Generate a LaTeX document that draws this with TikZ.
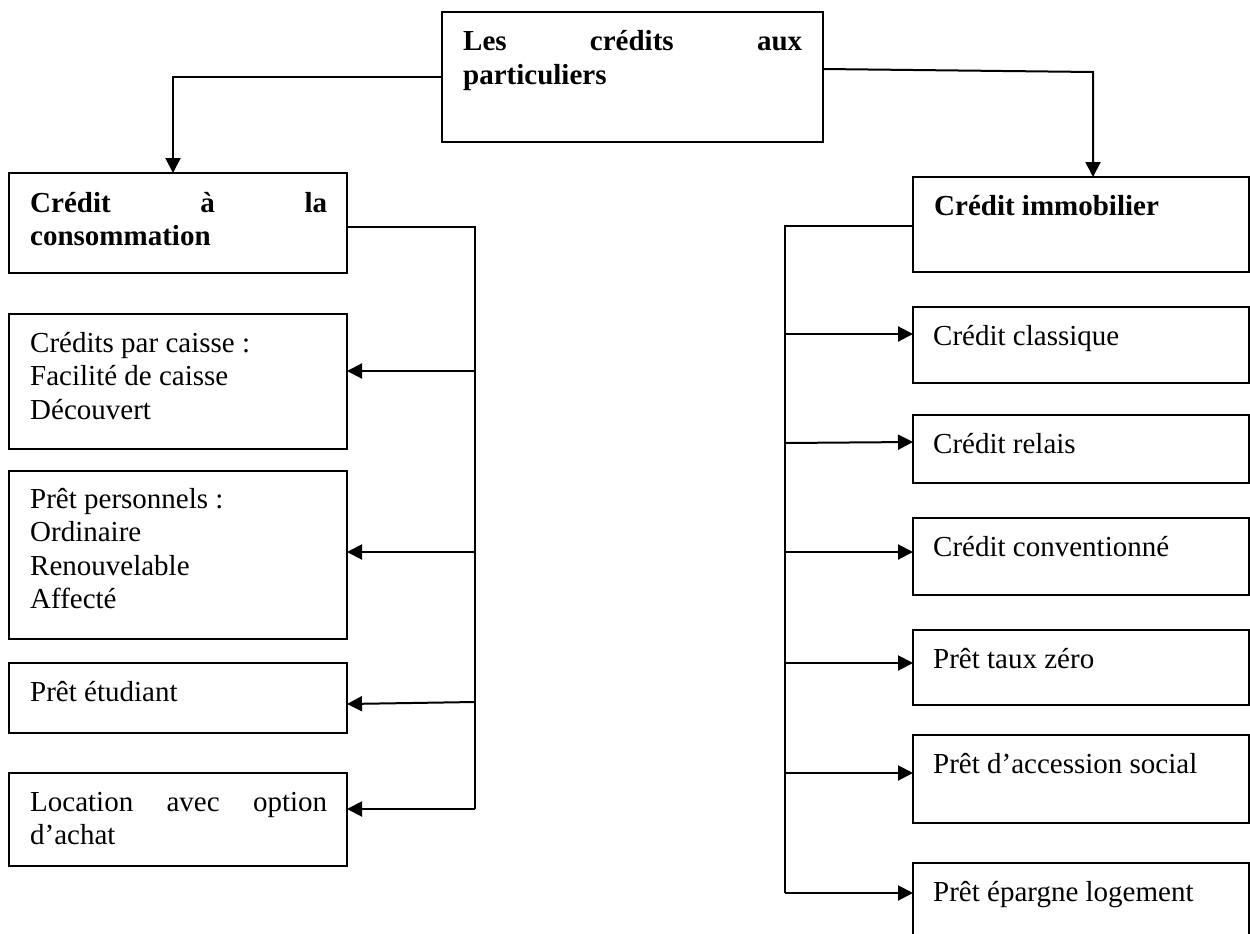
\documentclass[tikz,border=0pt]{standalone}
\usepackage{fontspec}
\setmainfont{Liberation Serif}
\usetikzlibrary{arrows.meta,calc}
\tikzset{
  box/.style={draw, rectangle, anchor=north west, inner sep=0pt, outer sep=0pt, line width=2pt},
  lbox/.style={box, minimum width=338pt},
  rbox/.style={box, minimum width=336pt},
  txt/.style={anchor=base west, inner sep=0pt, font=\fontsize{29}{33.5}\selectfont},
  btxt/.style={txt, font=\fontsize{29}{33.5}\selectfont\bfseries},
  arr/.style={-{Triangle[length=15pt,width=15pt]}, line width=2pt},
  conn/.style={line width=2pt}
}
\begin{document}
\begin{tikzpicture}[x=1pt,y=-1pt]
\clip (0,0) rectangle (1250,934);
\fill[white] (0,0) rectangle (1250,934);

% top
\node[box, minimum width=381pt, minimum height=130pt] (top) at (442,12) {};
\node[btxt] (topt) at ([shift={(21pt,-39pt)}]top.north west)
  {\parbox[t]{339pt}{\makebox[339pt][s]{Les crédits aux}\\particuliers}};

% left column
\node[lbox, minimum height=100pt] (cons) at (9,173) {};
\node[btxt] (const) at ([shift={(21pt,-39pt)}]cons.north west)
  {\parbox[t]{297pt}{\makebox[297pt][s]{Crédit à la}\\consommation}};

\node[lbox, minimum height=135pt] (c1) at (9,314) {};
\node[txt] (c1t) at ([shift={(21pt,-38pt)}]c1.north west)
  {\parbox[t]{297pt}{\raggedright Crédits par caisse :\\Facilité de caisse\\Découvert}};

\node[lbox, minimum height=168pt] (c2) at (9,471) {};
\node[txt] (c2t) at ([shift={(21pt,-37pt)}]c2.north west)
  {\parbox[t]{297pt}{\raggedright Prêt personnels :\\Ordinaire\\Renouvelable\\Affecté}};

\node[lbox, minimum height=70pt] (c3) at (9,663) {};
\node[txt] (c3t) at ([shift={(21pt,-38pt)}]c3.north west) {Prêt étudiant};

\node[lbox, minimum height=93pt] (c4) at (9,773) {};
\node[txt] (c4t) at ([shift={(21pt,-38pt)}]c4.north west)
  {\parbox[t]{297pt}{\makebox[297pt][s]{Location avec option}\\d’achat}};

% right column
\node[rbox, minimum height=95pt] (immo) at (913,177) {};
\node[btxt] (immot) at ([shift={(21pt,-38pt)}]immo.north west) {Crédit immobilier};

\node[rbox, minimum height=76pt] (r1) at (913,307) {};
\node[txt] (r1t) at ([shift={(20pt,-38pt)}]r1.north west) {Crédit classique};

\node[rbox, minimum height=68pt] (r2) at (913,415) {};
\node[txt] (r2t) at ([shift={(20pt,-38pt)}]r2.north west) {Crédit relais};

\node[rbox, minimum height=77pt] (r3) at (913,518) {};
\node[txt] (r3t) at ([shift={(20pt,-38pt)}]r3.north west) {Crédit conventionné};

\node[rbox, minimum height=75pt] (r4) at (913,630) {};
\node[txt] (r4t) at ([shift={(20pt,-38pt)}]r4.north west) {Prêt taux zéro};

\node[rbox, minimum height=88pt] (r5) at (913,735) {};
\node[txt] (r5t) at ([shift={(20pt,-38pt)}]r5.north west) {Prêt d’accession social};

\node[rbox, minimum height=100pt] (r6) at (913,863) {};
\node[txt] (r6t) at ([shift={(20pt,-38pt)}]r6.north west) {Prêt épargne logement};

% top connectors
\draw[arr] (top.west) -| ([xshift=-5pt]cons.north);
\coordinate (rk) at (1093,72);
\draw[arr] ([yshift=8pt]top.east) -- (rk) -- ([xshift=12pt]immo.north);

% left trunk
\coordinate (lt) at (475,227);
\coordinate (lb) at (475,809);
\draw[conn] (cons.east |- lt) -- (lt) -- (lb);
\coordinate (l1) at (475,371);
\coordinate (l2) at (475,552);
\coordinate (l3) at (475,702);
\draw[arr] (l1) -- (l1 -| c1.east);
\draw[arr] (l2) -- (l2 -| c2.east);
\draw[arr] (l3) -- ($(c3.east |- l3)+(0,2)$);
\draw[arr] (lb) -- (lb -| c4.east);

% right trunk
\coordinate (rt) at (785,226);
\coordinate (rb) at (785,893);
\draw[conn] (immo.west |- rt) -- (rt) -- (rb);
\coordinate (q1) at (785,334);
\coordinate (q2) at (785,443);
\coordinate (q3) at (785,552);
\coordinate (q4) at (785,663);
\coordinate (q5) at (785,773);
\draw[arr] (q1) -- (q1 -| r1.west);
\draw[arr] (q2) -- ($(q2 -| r2.west)+(0,-1)$);
\draw[arr] (q3) -- (q3 -| r3.west);
\draw[arr] (q4) -- (q4 -| r4.west);
\draw[arr] (q5) -- (q5 -| r5.west);
\draw[arr] (rb) -- (rb -| r6.west);
\end{tikzpicture}
\end{document}
